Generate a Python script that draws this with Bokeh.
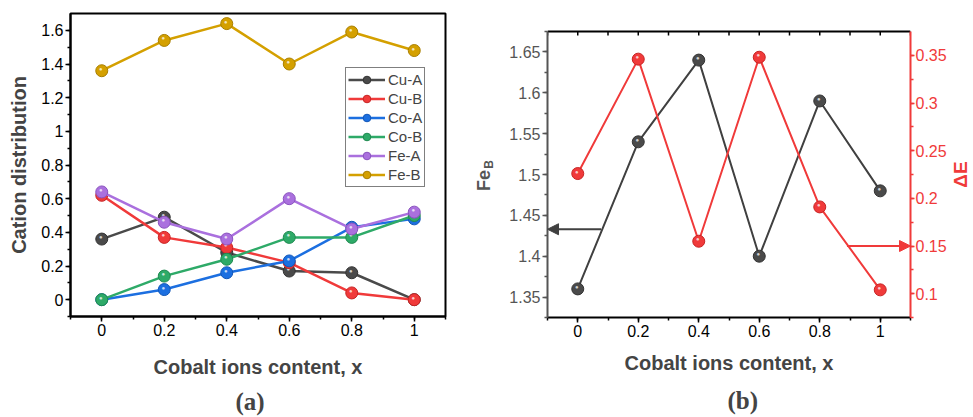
import math
from bokeh.plotting import figure
from bokeh.layouts import row
from bokeh.models import (LinearAxis, Range1d, SingleIntervalTicker, Legend,
                          LegendItem, Title, Arrow, NormalHead, CustomJSTickFormatter)
from bokeh.core.properties import value
from bokeh.embed import file_html
from bokeh.resources import INLINE

# ---------------- data ----------------
x_content = [0, 0.2, 0.4, 0.6, 0.8, 1.0]
cu_a = [0.36, 0.49, 0.28, 0.17, 0.16, 0.00]
cu_b = [0.62, 0.37, 0.31, 0.22, 0.04, 0.00]
co_a = [0.00, 0.06, 0.16, 0.23, 0.43, 0.48]
co_b = [0.00, 0.14, 0.24, 0.37, 0.37, 0.50]
fe_a = [0.64, 0.46, 0.36, 0.60, 0.42, 0.52]
fe_b = [1.36, 1.54, 1.64, 1.40, 1.59, 1.48]
delta_e = [0.226, 0.346, 0.155, 0.348, 0.191, 0.104]

series_names = ["Cu-A", "Cu-B", "Co-A", "Co-B", "Fe-A", "Fe-B"]
series_values = [cu_a, cu_b, co_a, co_b, fe_a, fe_b]
series_colors = ["#4a4a4a", "#f03a3a", "#1c6fe0", "#2eaa68", "#aa70de", "#d4a000"]
series_edges = ["#333333", "#c82424", "#1257b8", "#1f8a50", "#8a52bf", "#a97f00"]

FONT = "Liberation Sans"
SERIF = "Liberation Serif"
GREY = "#555555"
RED = "#f03a3a"

# shared vertical layout (all row children share top/bottom borders)
TOP, FRAME_H, BOTTOM = 13, 303, 101

fmt_code = """
let s = tick.toFixed(2);
s = s.replace(/0+$/, '').replace(/\\.$/, '');
if (s === '-0') s = '0';
return s;
"""


def style_axis(ax, color="black", label_color="black", width=2):
    ax.axis_line_color = color
    ax.axis_line_width = width
    ax.major_tick_line_color = color
    ax.minor_tick_line_color = color
    ax.major_tick_line_width = 1.5
    ax.minor_tick_line_width = 1.5
    ax.major_tick_out = 5
    ax.major_tick_in = 0
    ax.minor_tick_out = 3
    ax.minor_tick_in = 0
    ax.major_label_text_font = FONT
    ax.major_label_text_font_size = "16px"
    ax.major_label_text_color = label_color
    ax.major_label_standoff = 2
    ax.axis_label_text_font = FONT
    ax.axis_label_text_font_size = "20px"
    ax.axis_label_text_font_style = "bold"
    ax.formatter = CustomJSTickFormatter(code=fmt_code)


def sphere(p, xs, ys, color, edge, size=12, **kw):
    r = p.scatter(xs, ys, size=size, fill_color=color, line_color=edge, line_width=1, **kw)
    p.text(xs, ys, text=["●"] * len(xs), text_font=value(FONT), text_font_size="6px",
           text_color="white", text_alpha=0.75, text_align="center", text_baseline="middle",
           x_offset=-1, y_offset=-2, **kw)
    return r


def text_strip(width, x0, texts):
    """narrow figure whose data coordinates equal canvas pixels (for titles outside frames)"""
    s = figure(title=None, frame_width=width, frame_height=FRAME_H, min_border_left=0,
               min_border_right=0, min_border_top=TOP, min_border_bottom=BOTTOM,
               x_range=Range1d(x0, x0 + width), y_range=Range1d(TOP + FRAME_H, TOP),
               output_backend="svg", toolbar_location=None,
               x_axis_location=None, y_axis_location=None)
    s.grid.visible = False
    s.outline_line_color = None
    for (tx, ty, txt, size, color) in texts:
        s.text([tx], [ty], text=[txt], angle=math.pi / 2, text_font=value(FONT),
               text_font_size=size, text_font_style="bold", text_color=color,
               text_align="center", text_baseline="middle")
    return s

# ---------------- panel (a) ----------------
p1 = figure(title=None, frame_width=375, frame_height=FRAME_H, min_border_left=70,
            min_border_right=25, min_border_top=TOP, min_border_bottom=BOTTOM,
            x_range=Range1d(-0.1, 1.1), y_range=Range1d(-0.1, 1.7),
            output_backend="svg", toolbar_location=None)
p1.grid.visible = False
p1.outline_line_color = "black"
p1.outline_line_width = 2
p1.xaxis.ticker = SingleIntervalTicker(interval=0.2, num_minor_ticks=2)
p1.yaxis.ticker = SingleIntervalTicker(interval=0.2, num_minor_ticks=2)
for ax in p1.xaxis + p1.yaxis:
    style_axis(ax)
p1.xaxis.axis_label = "Cobalt ions content, x"
p1.xaxis.axis_label_standoff = 17
p1.yaxis.axis_label = "Cation distribution"
p1.yaxis.axis_label_standoff = 8

items = []
for name, vals, col, edge in zip(series_names, series_values, series_colors, series_edges):
    ln = p1.line(x_content, vals, line_color=col, line_width=2.5)
    sc = sphere(p1, x_content, vals, col, edge, size=12)
    items.append(LegendItem(label=name, renderers=[ln, sc]))

leg = Legend(items=items, location=(275, 129))
leg.border_line_color = "black"
leg.border_line_width = 1
leg.padding = 2
leg.spacing = 0
leg.margin = 0
leg.glyph_width = 37
leg.glyph_height = 19
leg.label_height = 19
leg.label_standoff = 3
leg.label_text_font = FONT
leg.label_text_font_size = "15px"
leg.background_fill_alpha = 1
p1.add_layout(leg)

p1.add_layout(Title(text="(a)", align="left", offset=165, standoff=10, text_font=SERIF,
                    text_font_size="25px", text_font_style="bold"), "below")

# ---------------- middle strip: left-axis title of panel (b) (Fe with subscript B) ----------------
pm = text_strip(36, 470, [(483, 180, "Fe", "18px", GREY), (488, 164, "B", "12px", GREY)])

# ---------------- panel (b) ----------------
FEB_LO, FEB_HI = 1.325, 1.675
DE_LO, DE_HI = 0.075, 0.375
BOX_TOP = 31                      # canvas y of the drawn box top
BOX_H = 286                       # drawn box height in px
EXTRA = BOX_TOP - TOP             # frame extends above the drawn box
feb_top = FEB_HI + (FEB_HI - FEB_LO) * EXTRA / BOX_H
de_top = DE_HI + (DE_HI - DE_LO) * EXTRA / BOX_H

p2 = figure(title=None, frame_width=363, frame_height=BOX_H + EXTRA, min_border_left=41,
            min_border_right=37, min_border_top=TOP, min_border_bottom=BOTTOM - 1,
            x_range=Range1d(-0.1, 1.1), y_range=Range1d(FEB_LO, feb_top),
            output_backend="svg", toolbar_location=None)
p2.grid.visible = False
p2.outline_line_color = None
p2.extra_y_ranges = {"de": Range1d(DE_LO, de_top)}

p2.xaxis.ticker = SingleIntervalTicker(interval=0.2, num_minor_ticks=2)
p2.yaxis.ticker = SingleIntervalTicker(interval=0.05, num_minor_ticks=2)
for ax in p2.xaxis:
    style_axis(ax)
for ax in p2.yaxis:
    style_axis(ax, color=GREY, label_color=GREY)
    ax.bounds = (FEB_LO, FEB_HI)
p2.xaxis.axis_label = "Cobalt ions content, x"
p2.xaxis.axis_label_standoff = 12

rax = LinearAxis(y_range_name="de", ticker=SingleIntervalTicker(interval=0.05, num_minor_ticks=2),
                 bounds=(DE_LO, DE_HI))
style_axis(rax, color=RED, label_color=RED)
rax.major_tick_out = 4
rax.minor_tick_out = 3
rax.major_label_standoff = 1
p2.add_layout(rax, "right")

# top border of the box with inward ticks
tick_len = (FEB_HI - FEB_LO) * 4 / BOX_H
top_ticks = [round(-0.1 + 0.1 * i, 1) for i in range(13)]
p2.line([-0.1, 1.1], [FEB_HI, FEB_HI], line_color="black", line_width=2)
p2.segment(x0=top_ticks, y0=[FEB_HI] * len(top_ticks), x1=top_ticks,
           y1=[FEB_HI - tick_len] * len(top_ticks), line_color="black", line_width=1.5)

p2.line(x_content, fe_b, line_color="#404040", line_width=2)
sphere(p2, x_content, fe_b, "#4a4a4a", "#333333", size=12)
p2.line(x_content, delta_e, line_color=RED, line_width=2, y_range_name="de")
sphere(p2, x_content, delta_e, RED, "#c82424", size=12, y_range_name="de")

# axis-indicating arrows
p2.add_layout(Arrow(end=NormalHead(size=11, fill_color="#404040", line_color="#404040"),
                    x_start=0.077, y_start=1.433, x_end=-0.1, y_end=1.433,
                    line_color="#404040", line_width=2))
p2.add_layout(Arrow(end=NormalHead(size=11, fill_color=RED, line_color=RED),
                    x_start=0.89, y_start=0.15, x_end=1.1, y_end=0.15,
                    line_color=RED, line_width=2, y_range_name="de"))

p2.add_layout(Title(text="(b)", align="left", offset=180, standoff=17, text_font=SERIF,
                    text_font_size="25px", text_font_style="bold"), "below")

# ---------------- right strip: right-axis title ΔE ----------------
pr = text_strip(26, 947, [(958, 174, "ΔE", "19px", RED)])

layout = row(p1, pm, p2, pr)
open("out.html", "w").write(file_html(layout, INLINE))
